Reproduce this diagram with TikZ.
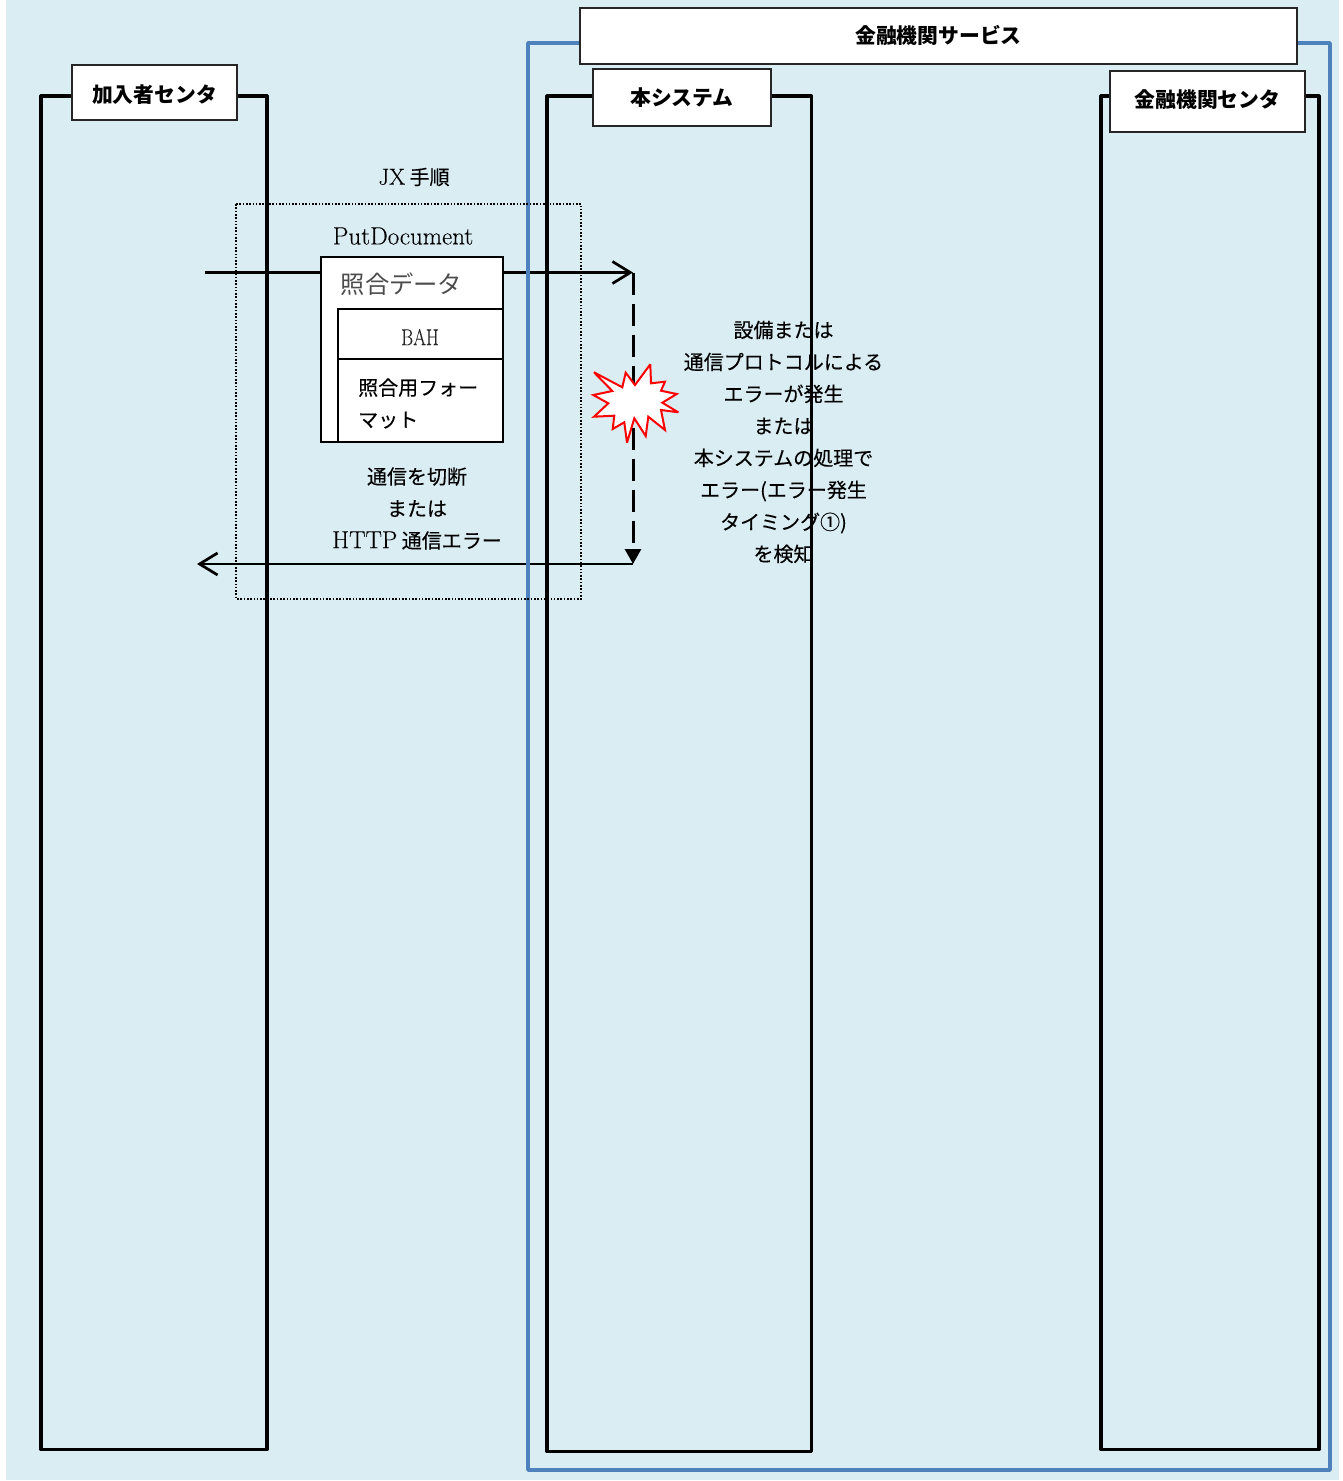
\documentclass[tikz,border=0pt]{standalone}
\usepackage{fontspec}
\setmainfont{Noto Sans CJK JP}
\newfontfamily\notefont[FakeBold=0.25]{Noto Sans CJK JP}
\newfontfamily\lat[FakeBold=0.15]{Latin Modern Roman}
\usetikzlibrary{arrows.meta}
\definecolor{bgblue}{HTML}{DAEDF3}
\definecolor{frameblue}{HTML}{4F81BD}
\tikzset{
  lifeline/.style={draw=black,line width=3.2pt,line join=round},
  titlebox/.style={draw=black!85,fill=white,line width=1.2pt,font=\fontsize{20.8}{25}\selectfont\bfseries,inner sep=0pt},
  msgbox/.style={draw=black,fill=white,line width=2pt,inner sep=0pt},
  msg/.style={line width=2.7pt},
  note/.style={font=\notefont\fontsize{20}{32}\selectfont,align=center,inner sep=0pt,text=black}
}
\begin{document}
\begin{tikzpicture}[x=1pt,y=-1pt]
\useasboundingbox (0,0) rectangle (1343,1481);
\fill[bgblue] (6,0) rectangle (1339,1480);
% note text lies under the lifeline
\node[note] (errnote) at (783.5,442) {設備または\\通信プロトコルによる\\エラーが発生\\または\\本システムの処理で\\エラー(エラー発生\\タイミング①)\\を検知};
% lifelines and frame
\draw[lifeline] (41,96) rectangle (267,1449.5);
\draw[lifeline] (547,96) rectangle (811.5,1451.5);
\draw[lifeline] (1101,96) rectangle (1319,1449.5);
% messages
\coordinate (msgstart) at (205,272.5);
\coordinate (msgend) at (633,272.5);
\coordinate (retcorner) at (633,564);
\coordinate (retend) at (197,564);
\draw[msg,-{Straight Barb[length=18pt,width=22pt,line width=2.7pt]}] (msgstart) -- (msgend);
\draw[msg,-{Straight Barb[length=18pt,width=22pt,line width=2.7pt]}] (retcorner) -- (retend);
\draw[line width=3pt,dash pattern=on 22pt off 9pt,-{Triangle[length=15pt,width=16pt]}] (msgend) -- (retcorner);
\draw[frameblue,line width=3.6pt,line join=round] (528,43) rectangle (1330,1470);
\draw[black,line width=1.6pt,dash pattern=on 1.6pt off 1.7pt] (236,204) rectangle (581,599);
% headers
\node[titlebox,minimum width=717pt,minimum height=56pt] (fin) at (938.5,36) {\raisebox{-7pt}[0pt][0pt]{金融機関サービス}};
\node[titlebox,minimum width=165pt,minimum height=55pt] (sub) at (154.5,92.5) {\raisebox{-9.5pt}[0pt][0pt]{加入者センタ}};
\node[titlebox,minimum width=178pt,minimum height=57pt] (sys) at (682,97.5) {本システム};
\node[titlebox,minimum width=195pt,minimum height=61pt] (fcen) at (1207.5,101.5) {\raisebox{-5.5pt}[0pt][0pt]{金融機関センタ}};
% message document
\node[msgbox,minimum width=182pt,minimum height=185pt] (doc) at (412,349.5) {};
\node[msgbox,minimum width=165.5pt,minimum height=50pt] (bah) at (420.25,334) {};
\node[msgbox,minimum width=165pt,minimum height=83pt] (fmt) at (420.5,400.5) {};
\node[inner sep=0pt,text=black!70,font=\fontsize{24.3}{28}\selectfont] (doclbl) at (401.5,284) {照合データ};
\node[inner sep=0pt,text=black!85] (bahlbl) at (420,337) {\lat\fontsize{23}{27}\selectfont\scalebox{0.8}[1]{BAH}};
\node[note,anchor=west,align=left] (fmtlbl) at (358,403.5) {照合用フォー\\マット};
% labels
\node[inner sep=0pt,text=black] (jx) at (414,177) {\notefont\fontsize{20}{25}\selectfont{\lat\fontsize{23}{25}\selectfont JX} 手順};
\node[inner sep=0pt,text=black] (put) at (403,236) {\lat\fontsize{25}{27}\selectfont PutDocument};
\node[note] (cut) at (417,508.5) {通信を切断\\または\\{\lat\fontsize{24.5}{32}\selectfont HTTP} 通信エラー};
% burst
\filldraw[draw=red,fill=white,line width=2pt,line join=miter,miter limit=3]
 (594,372.3) -- (622.3,387.3) -- (625.7,372.7) -- (635,385) -- (650.3,364.3) -- (651,383.3) -- (665,381.7)
 -- (661,390.7) -- (676.7,394) -- (662.3,402.7) -- (678.3,412.3) -- (661,410) -- (665,430) -- (648.3,416.7)
 -- (645.7,436) -- (634.3,418.3) -- (627,442.7) -- (624.3,422.3) -- (612.7,429) -- (614.3,415.7)
 -- (594,416.7) -- (608.3,403.3) -- (593.3,395) -- (612.3,391) -- cycle;
\end{tikzpicture}
\end{document}
